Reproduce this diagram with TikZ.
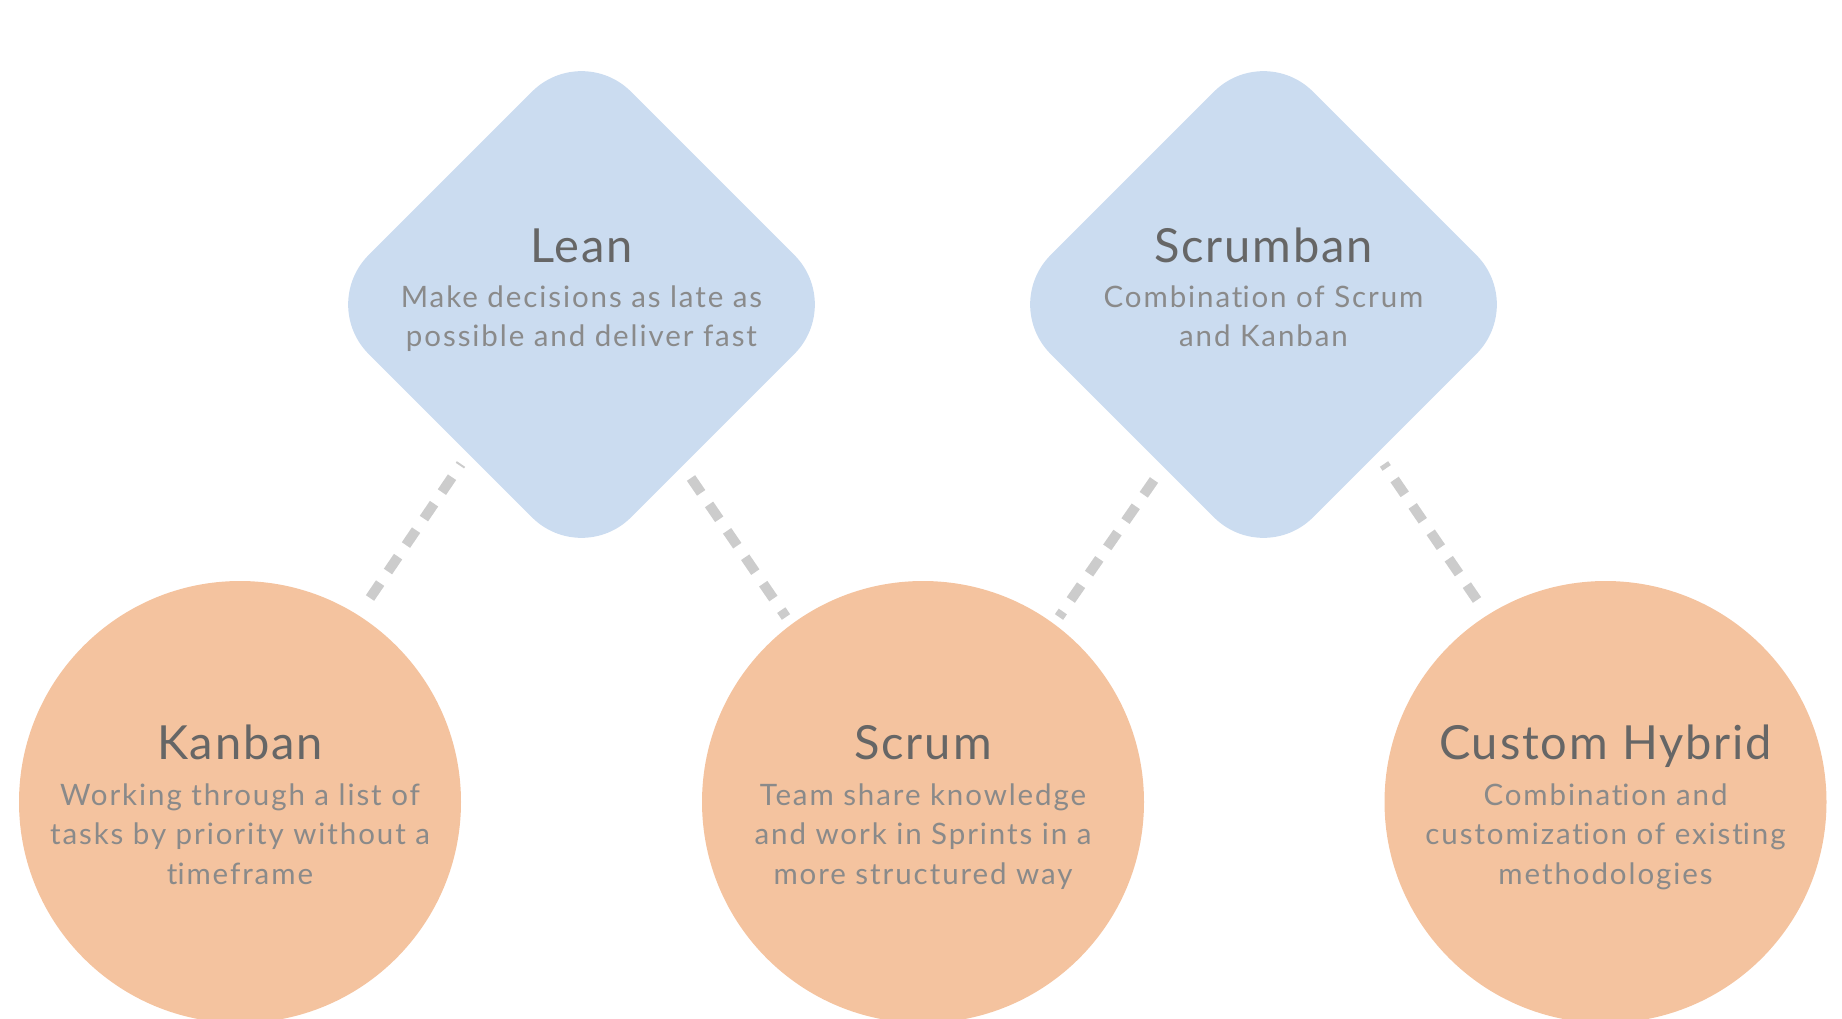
\documentclass[tikz,border=0pt]{standalone}
\usepackage{fontspec}
\setmainfont{Lato}
\newfontfamily\ttlfont[LetterSpace=4,Ligatures={NoCommon,NoContextual}]{Lato}
\newfontfamily\descfont[LetterSpace=6.5,Ligatures={NoCommon,NoContextual}]{Lato}
\newcommand{\nolig}{\kern0pt{}}
\definecolor{bluefill}{HTML}{CBDCF0}
\definecolor{peach}{HTML}{F4C39F}
\definecolor{titlegray}{HTML}{666666}
\definecolor{bodygray}{HTML}{8A8A8A}
\definecolor{dashgray}{HTML}{CCCCCC}
\begin{document}
\begin{tikzpicture}[x=1pt,y=-1pt,
  dia/.style={rectangle, fill=bluefill, minimum size=371pt, rotate=45, rounded corners=70pt, inner sep=0pt},
  disc/.style={circle, fill=peach, minimum size=442pt, inner sep=0pt},
  ttl/.style={anchor=base, text=titlegray, font=\ttlfont\fontsize{47}{50}\selectfont},
  desc/.style={anchor=base, text=bodygray, align=center, font=\descfont\fontsize{29.5}{39.5}\selectfont},
  conn/.style={draw=dashgray, line width=10pt, dash pattern=on 18pt off 14pt}]
\path[use as bounding box] (0,0) rectangle (1842,1019);
\clip (0,0) rectangle (1842,1019);
% diamonds
\node[dia] (leanbox) at (581.5,304.5) {};
\node[dia] (scrumbanbox) at (1263.5,304.5) {};
% circles
\node[disc] (kanban) at (240,802) {};
\node[disc] (scrum) at (923,802) {};
\node[disc] (custom) at (1605.5,802) {};
% connector end points
\coordinate (l1a) at (370,598);
\coordinate (l1b) at (461,464);
\coordinate (l2a) at (691,478);
\coordinate (l2b) at (786,617);
\coordinate (l3a) at (1154,480);
\coordinate (l3b) at (1059,617);
\coordinate (l4a) at (1477,600);
\coordinate (l4b) at (1384,464);
\draw[conn] (l1a) -- (l1b);
\draw[conn] (l2a) -- (l2b);
\draw[conn] (l3a) -- (l3b);
\draw[conn] (l4a) -- (l4b);
% texts (description nodes anchored at the baseline of their last line)
\node[ttl] (leant) at (581.5,262) {Lean};
\node[desc] (leand) at (581.5,346.5) {Make decisions as late as\\possible and deliver fast};
\node[ttl] (scrumbant) at (1263.5,262) {Scrumban};
\node[desc] (scrumband) at (1263.5,346.5) {Combinat\nolig ion of Scrum\\and Kanban};
\node[ttl] (kanbant) at (240,759) {Kanban};
\node[desc] (kanband) at (240,884) {Working through a list of\\tasks by priority without a\\t\nolig imeframe};
\node[ttl] (scrumt) at (923,759) {Scrum};
\node[desc] (scrumd) at (923,884) {Team share knowledge\\and work in Sprints in a\\more structured way};
\node[ttl] (customt) at (1605.5,759) {Custom Hybrid};
\node[desc] (customd) at (1605.5,884) {Combinat\nolig ion and\\customizat\nolig ion of exist\nolig ing\\methodologies};
\end{tikzpicture}
\end{document}
